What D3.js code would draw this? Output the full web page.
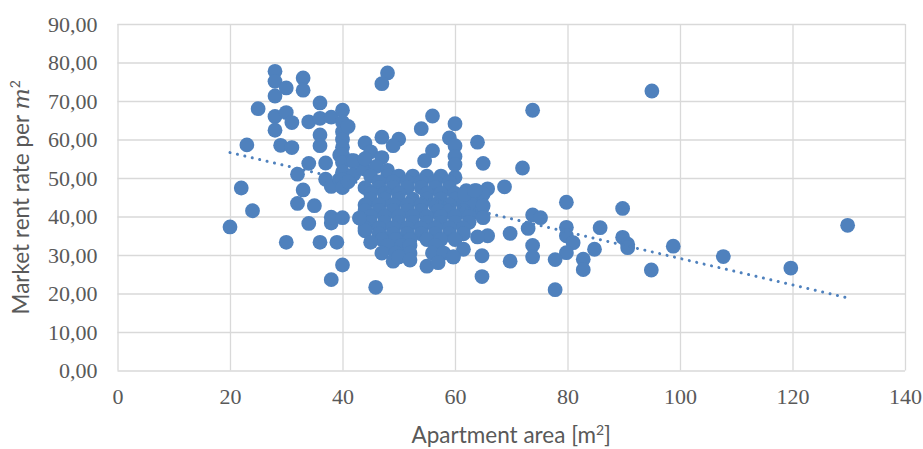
<!DOCTYPE html>
<html>
<head>
<meta charset="utf-8">
<script src="https://cdn.jsdelivr.net/npm/d3@7"></script>
<style>
  body { margin: 0; background: #fff; }
  svg { display: block; }
</style>
</head>
<body>
<div id="chart"></div>
<script>
// values: [apartment area m2, rent per m2]
const leftPoints = [
  [20,37.3],[22,47.4],[23,58.6],[24,41.5],[25,68],[28,77.7],[28,75.1],[30,73.4],[28,71.3],
  [33,76],[33,72.8],[36,69.5],[28,66],[30,67],[31,64.4],[28,62.4],[34,64.6],[36,65.5],
  [38,65.8],[36,61.2],[36,58.4],[29,58.5],[31,57.9],[34,53.8],[37,53.9],[32,51],[33,46.9],
  [37,49.7],[38,47.8],[32,43.4],[35,42.8],[34,38.2],[38,38.3],[38,39.8],[30,33.3],[36,33.3],
  [39,33.3],[38,23.6],[39.5,56],[39.5,49.7]
];
const col40Points = [
  [40,67.6],[40,64.5],[40,62],[40,60],[40,58],[40,56],[40,54],[40,51.5],[40,49.5],[40,47.5],
  [40,39.7],[40,27.4],[41,63.4]
];
const upperMidPoints = [
  [41.6,54.5],[42,51],[43.7,52.4],[44,59.1],[45,56.8],[47,60.6],[47,55.3],[50,60.1],[49,58.4],
  [42,54.5],[41,49],[44,55],[46,53],[48,52],[48,77.3],[47,74.5]
];
const corePoints = [
  [45,50.5],[48,50.5],[50,50.5],[52.5,50.5],[55,50.5],[57.5,50.5],[60,50.2],
  [46.5,49],[49,49],[51.5,49],[54,49],[56.5,49],[59,49],
  [44,47.5],[46.5,47.5],[49,47.5],[51.5,47.5],[54,47.5],[56.5,47.5],[59,47.5],[62,46.7],[63.8,46.7],[65.8,47.2],
  [45,46],[47.5,46],[50,46],[55,46],[57.5,46],[60,46],
  [45,44.5],[47.5,44.5],[50,44.5],[52.5,44.5],[55,44.5],[57.5,44.5],[60,44.5],[62.5,44.5],[64,44],
  [44,43],[46.5,43],[49,43],[51.5,43],[54,43],[56.5,43],[59,43],[61.5,43],[63,43],
  [44,41.5],[46.5,41.5],[49,41.5],[51.5,41.5],[54,41.5],[57,41.5],[59,41.5],[61.5,41.5],[64.7,41.5],
  [45,40],[47.5,40],[50,40],[52.5,40],[55,40],[57.5,40],[60,40],[62.5,40],
  [45,38.5],[47.5,38.5],[50,38.5],[52.5,38.5],[55,38.5],[57.5,38.5],[60,38.5],[62.5,38.5],
  [44,37],[46.5,37],[49,37],[51.5,37],[54,37],[56.5,37],[59,37],[61.5,37],
  [44,36.3],[46.5,35.5],[49,35.5],[51.5,35.5],[54,35.5],[56.5,35.5],[59,35.5],[61.5,35.5],
  [47,34],[49.5,34],[52,34],[55,34],[57.5,34],[60,34],
  [45,33.3],[48,32.5],[50.5,32.5],[52,32.5],[56.5,32.5],[61.5,31.5],
  [47,30.5],[49.5,30.5],[52,30.5],[56,30.5],[58,30.5],
  [49,28.4],[50,29.5],[52,28.7],[55,27.1],[57,28],[59.7,29.5],[43,39.6]
];
const rightPoints = [
  [54,62.8],[56,66.1],[60,64.1],[59,60.4],[60,58.4],[64,59.3],[56,57.1],[54.6,54.5],[60,55.6],
  [60,53.5],[65,53.8],[73.8,67.6],[95,72.6],[72,52.6],[68.8,47.7],[65,45.8],[65,42.8],[65,39.7],
  [61.7,45.8],[63.5,46.7],[79.8,43.7],[89.8,42.1],[73.8,40.4],[75.2,39.7],[73,36.9],[69.8,35.6],
  [79.8,37.2],[79.8,35],[81,33.2],[85.8,37.1],[84.8,31.5],[89.8,34.6],[90.7,32.8],[90.7,31.9],
  [98.8,32.3],[107.7,29.6],[119.7,26.6],[129.8,37.7],[79.8,30.6],[73.8,32.5],[73.8,29.5],
  [77.8,28.8],[82.8,28.9],[82.8,26.2],[94.9,26.1],[77.8,21],[69.8,28.4],[64.8,29.8],[64.8,24.4],
  [65.8,35],[64,34.7],[59.7,29.5],[45.9,21.6]
];
// linear trendline end points as drawn
const trendX = [20, 130];
const trendY = [56.6, 18.8];

const xTicks = [0, 20, 40, 60, 80, 100, 120, 140];
const yTicks = [0, 10, 20, 30, 40, 50, 60, 70, 80, 90];

const allPoints = [].concat(leftPoints, col40Points, upperMidPoints, corePoints, rightPoints);

//svg size
const w = 923;
const h = 449;
const plotLeft = 117.5, plotRight = 905, plotTop = 24, plotBottom = 370.5;
const blue = "#4f81bd";
const textGray = "#595959";
const gridGray = "#d9d9d9";

const xScale = d3.scaleLinear().domain([0, 140]).range([plotLeft, plotRight]);
const yScale = d3.scaleLinear().domain([0, 90]).range([plotBottom, plotTop]);

const locale = d3.formatLocale({decimal: ",", thousands: ".", grouping: [3], currency: ["", ""]});
const fmt2 = locale.format(".2f");

const svg = d3.select("#chart")
  .append("svg")
  .attr("width", w)
  .attr("height", h)
  .attr("viewBox", `0 0 ${w} ${h}`);

// y axis with horizontal grid
const yAxis = d3.axisLeft(yScale)
  .tickValues(yTicks)
  .tickFormat(fmt2)
  .tickSize(-(plotRight - plotLeft))
  .tickPadding(20);

const gy = svg.append("g")
  .attr("transform", `translate(${plotLeft},0)`)
  .call(yAxis);
gy.select(".domain").remove();
gy.selectAll(".tick line").attr("stroke", gridGray).attr("stroke-width", 1.3);
gy.selectAll(".tick text")
  .attr("fill", textGray)
  .style("font-family", "'Liberation Serif', 'Times New Roman', serif")
  .style("font-size", "22px");

// x axis with vertical grid
const xAxis = d3.axisBottom(xScale)
  .tickValues(xTicks)
  .tickFormat(d3.format("d"))
  .tickSize(-(plotBottom - plotTop))
  .tickPadding(18);

const gx = svg.append("g")
  .attr("transform", `translate(0,${plotBottom})`)
  .call(xAxis);
gx.select(".domain").remove();
gx.selectAll(".tick line").attr("stroke", gridGray).attr("stroke-width", 1.3);
gx.selectAll(".tick text")
  .attr("fill", textGray)
  .style("font-family", "'Liberation Serif', 'Times New Roman', serif")
  .style("font-size", "22px");

// points
svg.append("g")
  .selectAll("circle.pt")
  .data(allPoints)
  .enter()
  .append("circle")
  .attr("class", "pt")
  .attr("cx", d => xScale(d[0]))
  .attr("cy", d => yScale(d[1]))
  .attr("r", 7.4)
  .attr("fill", blue);

// dotted trendline
const trend = trendX.map((x, i) => [x, trendY[i]]);
svg.append("path")
  .datum(trend)
  .attr("d", d3.line().x(d => xScale(d[0])).y(d => yScale(d[1])))
  .attr("fill", "none")
  .attr("stroke", blue)
  .attr("stroke-width", 3)
  .attr("stroke-linecap", "round")
  .attr("stroke-dasharray", "0.01 7.6");

// axis titles
const xTitle = svg.append("text")
  .attr("x", (plotLeft + plotRight) / 2)
  .attr("y", 443)
  .attr("text-anchor", "middle")
  .attr("fill", textGray)
  .style("font-family", "Lato, 'Open Sans', sans-serif")
  .style("font-size", "22.5px");
xTitle.append("tspan").text("Apartment area [m");
xTitle.append("tspan").attr("dy", -8).style("font-size", "14px").text("2");
xTitle.append("tspan").attr("dy", 8).text("]");

const yTitle = svg.append("text")
  .attr("transform", `translate(29,${(plotTop + plotBottom) / 2}) rotate(-90)`)
  .attr("text-anchor", "middle")
  .attr("fill", textGray)
  .style("font-family", "Lato, 'Open Sans', sans-serif")
  .style("font-size", "22.5px");
yTitle.append("tspan").text("Market rent rate per ");
yTitle.append("tspan")
  .style("font-family", "'DejaVu Serif', serif")
  .style("font-style", "italic")
  .text("m");
yTitle.append("tspan").attr("dy", -9).style("font-size", "14px").text("2");
</script>
</body>
</html>
